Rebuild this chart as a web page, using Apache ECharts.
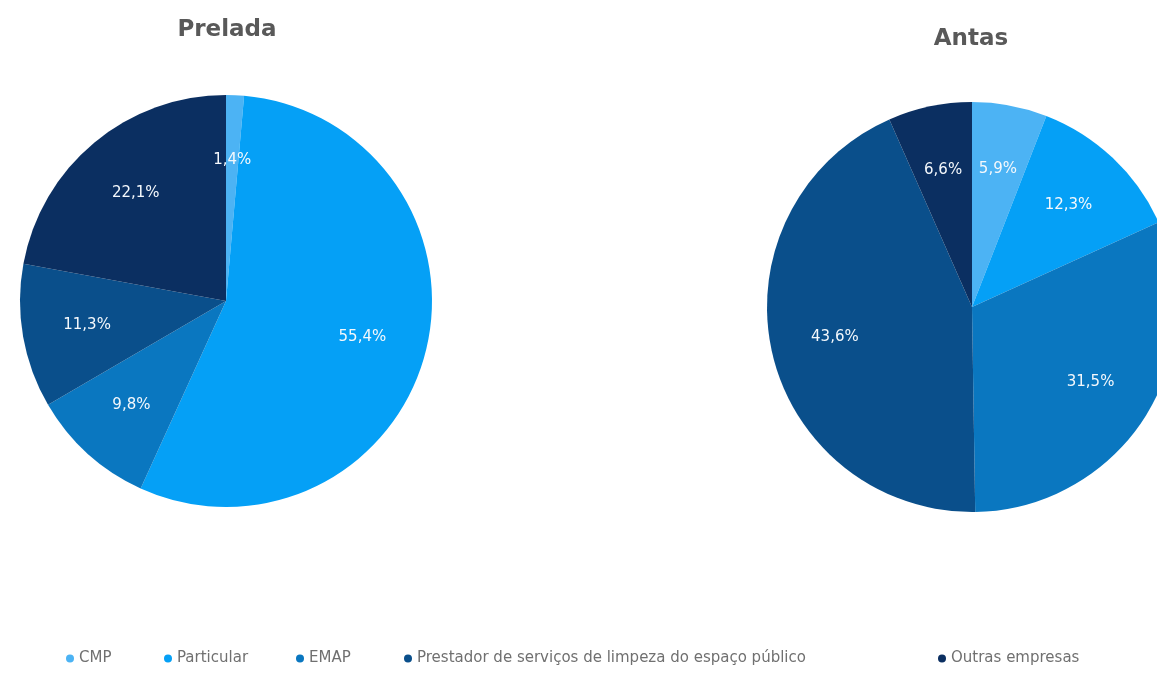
<!DOCTYPE html>
<html>
<head>
<meta charset="utf-8">
<style>
  html, body { margin: 0; padding: 0; background: #fff; }
  #chart { width: 1157px; height: 686px; }
</style>
<script src="https://cdn.jsdelivr.net/npm/echarts@6/dist/echarts.min.js"></script>
</head>
<body>
<div id="chart"></div>
<script>
// Categories (clockwise from 12 o'clock)
const categories = ['CMP', 'Particular', 'EMAP', 'Prestador de serviços de limpeza do espaço público', 'Outras empresas'];
const colors = ['#4cb3f4', '#05a0f6', '#0a77c0', '#0a4f8b', '#0b2f61'];

// Shares in percent
const preladaValues = [1.4, 55.4, 9.8, 11.3, 22.1];
const antasValues = [5.9, 12.3, 31.5, 43.6, 6.6];

const titles = ['Prelada', 'Antas'];

const FONT = '"DejaVu Sans", "Noto Sans", sans-serif';

function toData(values) {
  return categories.map((name, i) => ({ name, value: values[i], itemStyle: { color: colors[i] } }));
}

function pieSeries(values, center, radius) {
  return [
    {
      type: 'pie',
      center: center,
      radius: radius,
      startAngle: 90,
      clockwise: true,
      label: { show: false },
      labelLine: { show: false },
      itemStyle: { borderWidth: 0 },
      emphasis: { disabled: true },
      data: toData(values)
    },
    {
      // transparent ring that carries the percentage labels further out
      type: 'pie',
      center: center,
      radius: [radius * 0.34, radius],
      startAngle: 90,
      clockwise: true,
      silent: true,
      legendHoverLink: false,
      itemStyle: { color: 'rgba(0,0,0,0)', borderWidth: 0 },
      label: {
        show: true,
        position: 'inside',
        color: '#f4f8fc',
        fontFamily: FONT,
        fontSize: 15,
        formatter: p => p.value.toFixed(1).replace('.', ',') + '%'
      },
      labelLine: { show: false },
      emphasis: { disabled: true },
      data: categories.map((name, i) => ({ name: name, value: values[i], itemStyle: { color: 'rgba(0,0,0,0)' } }))
    }
  ];
}

// Legend item left positions
const legendLefts = [61, 159, 291, 399, 933];

const chart = echarts.init(document.getElementById('chart'), null, { renderer: 'canvas' });
chart.setOption({
  backgroundColor: '#ffffff',
  animation: false,
  color: colors,
  title: [
    { text: titles[0], left: 222, top: 14, textAlign: 'center',
      textStyle: { fontFamily: FONT, fontWeight: 'bold', fontSize: 23, color: '#595959' } },
    { text: titles[1], left: 966, top: 23, textAlign: 'center',
      textStyle: { fontFamily: FONT, fontWeight: 'bold', fontSize: 23, color: '#595959' } }
  ],
  legend: categories.map((name, i) => ({
    data: [{ name: name, itemStyle: { color: colors[i] } }],
    left: legendLefts[i],
    top: 646,
    icon: 'circle',
    itemWidth: 8,
    itemHeight: 8,
    itemGap: 10,
    selectedMode: false,
    textStyle: { fontFamily: FONT, fontSize: 15, color: '#707070' }
  })),
  series: [
    ...pieSeries(preladaValues, [226, 301], 206),
    ...pieSeries(antasValues, [972, 307], 205)
  ]
});
</script>
</body>
</html>
